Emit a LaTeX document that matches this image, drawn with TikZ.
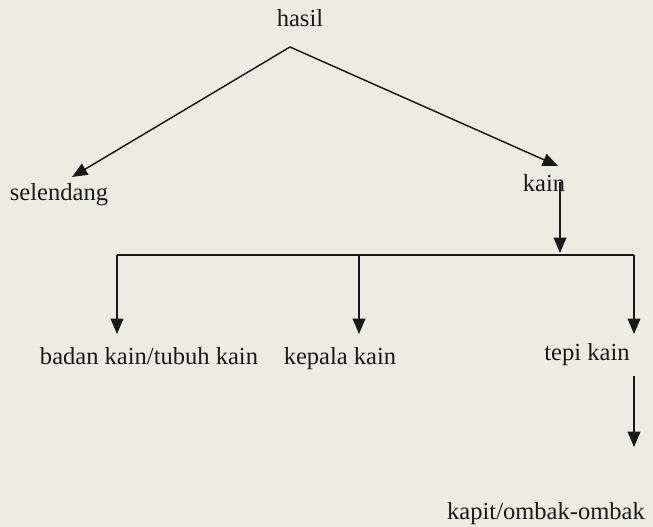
\documentclass[tikz,border=0pt]{standalone}
\usepackage{fontspec}
\setmainfont{Liberation Serif}
\usetikzlibrary{arrows.meta}
\definecolor{paper}{RGB}{236,236,226}
\definecolor{ink}{RGB}{25,25,25}
\begin{document}
\begin{tikzpicture}[x=0.75pt,y=-0.75pt,
  lbl/.style={inner sep=0pt,anchor=base,text=ink,font=\fontsize{18.4}{22}\selectfont},
  conn/.style={draw=ink,line width=1.1pt},
  arr/.style={conn,-{Triangle[length=11.5pt,width=9.5pt]}}]
\fill[paper] (0,0) rectangle (653,527);
\useasboundingbox (0,0) rectangle (653,527);
\node[lbl] (hasil) at (300,27) {hasil};
\node[lbl] (selendang) at (59,201) {selendang};
\node[lbl] (kain) at (544,192) {kain};
\node[lbl] (badan) at (149,364) {badan kain/tubuh kain};
\node[lbl] (kepala) at (340,364) {kepala kain};
\node[lbl] (tepi) at (587,360) {tepi kain};
\node[lbl] (kapit) at (546,519) {kapit/ombak-ombak};
\coordinate (apex) at (290,47);
\coordinate (tipS) at (72,177);
\coordinate (tipK) at (558,166);
\coordinate (kTop) at (560,182);
\coordinate (kBot) at (560,253);
\coordinate (hL) at (117,255);
\coordinate (hM) at (359,255);
\coordinate (hR) at (634,255);
\coordinate (bTip) at (117,334);
\coordinate (mTip) at (359,334);
\coordinate (rTip) at (634,334);
\coordinate (tTop) at (634,376);
\coordinate (tTip) at (634,447);
\draw[arr] (apex) -- (tipS);
\draw[arr] (apex) -- (tipK);
\draw[arr] (kTop) -- (kBot);
\draw[conn] (hL) -- (hR);
\draw[arr] (hL) -- (bTip);
\draw[arr] (hM) -- (mTip);
\draw[arr] (hR) -- (rTip);
\draw[arr] (tTop) -- (tTip);
\end{tikzpicture}
\end{document}
